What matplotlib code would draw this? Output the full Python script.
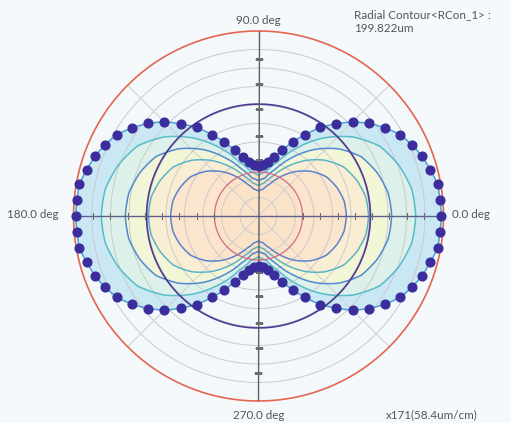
import numpy as np
import matplotlib
matplotlib.use("Agg")
import matplotlib.pyplot as plt
from matplotlib.path import Path
from matplotlib.patches import PathPatch

# Outer (marked) radial contour, first quadrant, one value every 5 deg
outer_deg = np.arange(0, 95, 5)
outer_r = [9.89, 9.84, 9.84, 9.62, 9.41, 9.14, 8.81, 8.32, 7.78, 7.19,
           6.49, 5.84, 5.08, 4.43, 3.78, 3.30, 2.97, 2.76, 2.70]

# Inner contours, first quadrant, one value every 10 deg
inner_deg = np.arange(0, 100, 10)
contour_1 = [8.50, 8.41, 8.06, 7.56, 6.65, 5.51, 4.29, 3.15, 2.44, 2.20]
contour_2 = [7.20, 7.12, 6.83, 6.41, 5.65, 4.69, 3.65, 2.70, 2.10, 1.90]
contour_3 = [5.95, 5.89, 5.65, 5.31, 4.69, 3.91, 3.07, 2.30, 1.81, 1.65]
contour_4 = [4.75, 4.70, 4.51, 4.24, 3.75, 3.14, 2.48, 1.86, 1.48, 1.35]

# Reference circles
ring_radii = [1, 2, 3, 4, 5, 6, 7, 8, 9]
limit_radius = 10.0
mid_circle_radius = 6.05
core_circle_radius = 2.38

# Axis tick positions
h_ticks = [2.38, 3.30, 4.32, 5.19, 6.16, 7.08, 8.05, 8.97]
v_ticks = [3.03, 4.32, 5.78, 7.14, 8.50]

# Angle labels
angle_labels = ["0.0 deg", "90.0 deg", "180.0 deg", "270.0 deg"]


def full_loop(deg, r):
    """Mirror a first-quadrant profile into a closed loop (symmetric in x and y)."""
    deg = np.asarray(deg, float)
    r = np.asarray(r, float)
    ang = np.concatenate([deg, 180 - deg[::-1][1:], 180 + deg[1:], 360 - deg[::-1][1:]])
    rr = np.concatenate([r, r[::-1][1:], r[1:], r[::-1][1:]])
    return np.deg2rad(ang), rr


def polar_patch(ax, theta, r, **kw):
    """Add a closed curve in (theta, r) data space; the polar transform draws each
    segment as a smooth curve rather than a straight chord."""
    verts = np.column_stack([theta, r])
    path = Path(verts, closed=False, _interpolation_steps=24)
    p = PathPatch(path, transform=ax.transData, **kw)
    ax.add_patch(p)
    return p


W, H = 511, 423
fig = plt.figure(figsize=(W / 100, H / 100), dpi=100)
fig.patch.set_facecolor("#f5f9fb")

cx, cy, R = 258.5, 216.0, 185.0
ax = fig.add_axes([(cx - R) / W, (H - cy - R) / H, 2 * R / W, 2 * R / H],
                  projection="polar")
ax.set_facecolor("#f3f8fb")
ax.set_ylim(0, limit_radius)
ax.set_xticks([])
ax.set_yticks([])
ax.grid(False)
ax.spines["polar"].set_visible(False)

full = np.linspace(0, 2 * np.pi, 721)

# Filled contour bands, outermost first
bands = [
    ((outer_deg, outer_r), "#cae7f4"),
    ((inner_deg, contour_1), "#ddf1ea"),
    ((inner_deg, contour_2), "#f3f6d6"),
    ((inner_deg, contour_3), "#f9eed4"),
    ((inner_deg, contour_4), "#fbe5cc"),
]
for (d, r), col in bands:
    t, rr = full_loop(d, r)
    polar_patch(ax, t, rr, facecolor=col, edgecolor="none", lw=0, zorder=1)
ax.fill(full, np.full_like(full, core_circle_radius), color="#fbe3ca", lw=0, zorder=1)

# Grid rings and spokes
for rr in ring_radii:
    ax.plot(full, np.full_like(full, rr), color="#c9cbcc", lw=0.7, zorder=2)
for a in (45, 135, 225, 315):
    ax.plot([np.deg2rad(a)] * 2, [0, limit_radius], color="#cfd1d2", lw=0.7, zorder=2)

# Contour lines
line_cols = ["#4a9fd6", "#56bcc8", "#4f8ad0", "#5ab4c4", "#5a82cc"]
for ((d, r), _), col in zip(bands, line_cols):
    t, rr = full_loop(d, r)
    polar_patch(ax, t, rr, facecolor="none", edgecolor=col, lw=1.1, zorder=3)

# Reference circles
ax.plot(full, np.full_like(full, core_circle_radius), color="#d46a86", lw=0.9, zorder=4)
ax.plot(full, np.full_like(full, mid_circle_radius), color="#4d3a92", lw=1.2, zorder=4)
ax.plot(full, np.full_like(full, limit_radius), color="#e4664f", lw=1.2, zorder=4,
        clip_on=False)

# Main axes through the centre
ax.plot([0, np.pi], [limit_radius, limit_radius], color="#5d5f8c", lw=1.0, zorder=4)
ax.plot([np.pi / 2, 3 * np.pi / 2], [limit_radius, limit_radius], color="#5f6062",
        lw=1.0, zorder=4)
for th in (0, np.pi):
    ax.plot([th] * len(h_ticks), h_ticks, ls="none", marker="|", ms=5,
            mew=0.8, color="#6a6c7a", zorder=4)
for th in (np.pi / 2, 3 * np.pi / 2):
    ax.plot([th] * len(v_ticks), v_ticks, ls="none", marker="_", ms=6,
            mew=0.8, color="#6a6c70", zorder=4)

# Markers on the outer contour
t, rr = full_loop(outer_deg, outer_r)
ax.plot(t[:-1], rr[:-1], ls="none", marker="o", ms=6.3, color="#3b2e9c",
        mec="#3b2e9c", zorder=5, clip_on=False)

# Text
txt = dict(color="#555555", fontsize=8.4, family="Lato")
fig.text(cx / W, 1 - 20 / H, angle_labels[1], ha="center", va="center", **txt)
fig.text(cx / W, 1 - 415 / H, angle_labels[3], ha="center", va="center", **txt)
fig.text(7 / W, 1 - 214 / H, angle_labels[2], ha="left", va="center", **txt)
fig.text(452 / W, 1 - 214 / H, angle_labels[0], ha="left", va="center", **txt)
fig.text(354 / W, 1 - 15 / H, "Radial Contour<RCon_1> :", ha="left", va="center", **txt)
fig.text(354 / W, 1 - 28 / H, "199.822um", ha="left", va="center", **txt)
fig.text(386 / W, 1 - 415 / H, "x171(58.4um/cm)", ha="left", va="center", **txt)

fig.savefig("out.png", dpi=100, facecolor=fig.get_facecolor())
